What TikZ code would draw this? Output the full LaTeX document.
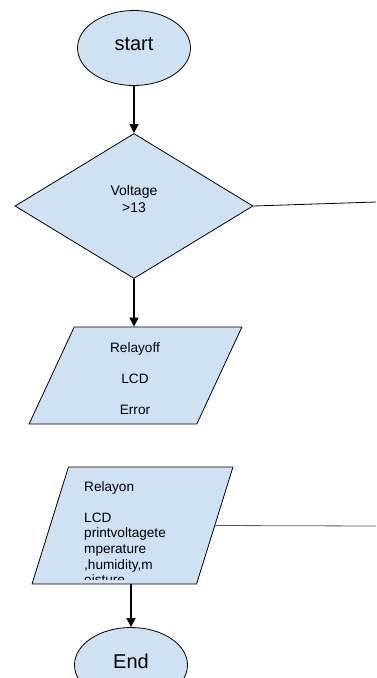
\documentclass[tikz,border=0pt]{standalone}
\usepackage{fontspec}
\setmainfont{Liberation Sans}
\usepackage{tikz}
\usetikzlibrary{shapes.geometric,arrows.meta,positioning}
\definecolor{flowfill}{HTML}{CFE2F3}

\begin{document}
\begin{tikzpicture}[x=1pt, y=-1pt,
  term/.style={ellipse, draw, fill=flowfill, line width=0.8pt,
               minimum width=113pt, minimum height=75pt, inner sep=0pt,
               text depth=8pt, font=\fontsize{20}{24}\selectfont},
  decide/.style={diamond, draw, fill=flowfill, line width=0.8pt,
                 minimum width=238pt, minimum height=145pt, inner sep=0pt},
  io/.style={trapezium, draw, fill=flowfill, line width=0.8pt,
             trapezium stretches=true, inner sep=0pt},
  txt/.style={inner sep=0pt, font=\fontsize{13.6}{15.6}\selectfont},
  arr/.style={-{Triangle[width=9pt,length=9pt]}, line width=1.2pt},
  flat/.style={line width=0.8pt}
]
  \useasboundingbox (0,0) rectangle (376,678);

  % start and test
  \node[term] (start) at (134,48) {start};
  \node[decide] (test) at (134,206) {};
  \node[txt, align=center, font=\fontsize{14}{17}\selectfont] (testtext)
    at (134,199) {Voltage\\>13};
  \coordinate (testout) at (376,202);

  % relay off branch
  \node[io, trapezium left angle=66, trapezium right angle=114,
        minimum width=213pt, minimum height=97pt] (off) at (135.5,375.5) {\phantom{M}};
  \begin{scope}
    \clip (0,0) rectangle (376,415);
    \node[txt, align=center] (offtext) at (135,378.5)
      {Relayoff\\[15.6pt]LCD\\[15.6pt]Error};
  \end{scope}

  % relay on branch
  \node[io, trapezium left angle=71, trapezium right angle=109,
        minimum width=201pt, minimum height=117pt] (on) at (132.5,525.5) {\phantom{M}};
  \begin{scope}
    \clip (0,0) rectangle (376,579);
    \node[txt, align=left, anchor=north west] (ontext) at (84,481)
      {Relayon\\[15.6pt]LCD\\printvoltagete\\mperature\\,humidity,m\\oisture};
  \end{scope}
  \coordinate (onout) at (376,526);

  \node[term] (stop) at (131,665) {End};

  % connectors
  \draw[arr] (start.south) -- (test.north);
  \draw[arr] (test.south) -- (test.south |- off.north);
  \draw[flat] (test.east) -- (testout);
  \draw[flat, black!65] (on.east) -- (onout);
  \draw[arr] (on.south -| stop.north) -- (stop.north);
\end{tikzpicture}
\end{document}
